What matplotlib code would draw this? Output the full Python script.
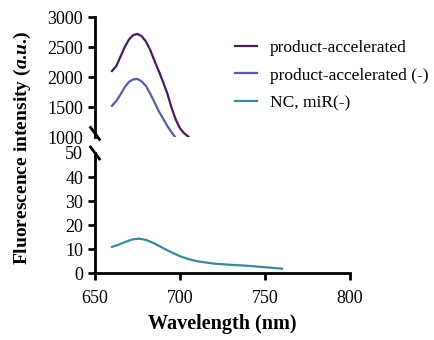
import matplotlib
matplotlib.use("Agg")
import matplotlib.pyplot as plt

plt.rcParams["font.family"] = ["Liberation Serif", "DejaVu Serif"]
plt.rcParams["mathtext.fontset"] = "custom"
plt.rcParams["mathtext.bfit"] = "Liberation Serif:italic:bold"

# spectra
wl_pa = [660, 662.5, 665, 667.5, 670, 672.5, 675, 677.5, 680, 682.5, 685, 687.5,
         690, 692.5, 695, 697.5, 700, 702.5, 705]
int_pa = [2100, 2180, 2340, 2500, 2625, 2700, 2717, 2680, 2590, 2450, 2270, 2100,
          1920, 1730, 1490, 1290, 1145, 1060, 1005]

wl_pam = [660, 662.5, 665, 667.5, 670, 672.5, 675, 677.5, 680, 682.5, 685, 687.5,
          690, 692.5, 695, 697]
int_pam = [1520, 1600, 1710, 1830, 1920, 1960, 1968, 1925, 1850, 1720, 1580, 1430,
           1310, 1185, 1080, 1005]

wl_nc = [660, 664, 668, 672, 676, 680, 685, 690, 695, 700, 705, 710, 720, 730, 740, 750, 760]
int_nc = [10.9, 11.8, 13.0, 14.0, 14.3, 13.8, 12.3, 10.4, 8.6, 7.0, 5.8, 4.9, 3.9, 3.4, 3.0, 2.4, 1.8]

names = ["product-accelerated", "product-accelerated (-)", "NC, miR(-)"]
colors = ["#4b1a5f", "#5a5ea3", "#3b8a98"]

fig = plt.figure(figsize=(4.35, 3.4), dpi=100)
left, width = 95 / 435, 255 / 435
ax_top = fig.add_axes([left, 1 - 137 / 340, width, 120 / 340])
ax_bot = fig.add_axes([left, 1 - 273 / 340, width, 120 / 340])

lw = 1.6
h1, = ax_top.plot(wl_pa, int_pa, color=colors[0], lw=lw)
h2, = ax_top.plot(wl_pam, int_pam, color=colors[1], lw=lw)
h3, = ax_bot.plot(wl_nc, int_nc, color=colors[2], lw=lw)

for ax in (ax_top, ax_bot):
    ax.set_xlim(650, 800)
    ax.spines["top"].set_visible(False)
    ax.spines["right"].set_visible(False)
    ax.spines["left"].set_linewidth(2)
    ax.spines["bottom"].set_linewidth(2)
    ax.tick_params(direction="out", length=5, width=2, labelsize=13)
    ax.tick_params(axis="y", pad=3.5)
    ax.tick_params(axis="x", pad=7)

ax_top.set_ylim(1000, 3000)
ax_top.set_yticks([1000, 1500, 2000, 2500, 3000])
ax_top.spines["bottom"].set_visible(False)
ax_top.tick_params(axis="x", bottom=False, labelbottom=False)
ax_top.yaxis.get_major_ticks()[0].tick1line.set_visible(False)

ax_bot.set_ylim(0, 50)
ax_bot.set_yticks([0, 10, 20, 30, 40, 50])
ax_bot.yaxis.get_major_ticks()[-1].tick1line.set_visible(False)
ax_bot.set_xticks([650, 700, 750, 800])
ax_bot.set_xlabel("Wavelength (nm)", fontsize=14.5, fontweight="bold", labelpad=5)

# break marks on the y axis
d = 0.035
ax_top.plot([-d * 0.5, d * 0.5], [0.08, -0.02], transform=ax_top.transAxes,
            color="k", lw=2, clip_on=False)
ax_bot.plot([-d * 0.5, d * 0.5], [1.05, 0.95], transform=ax_bot.transAxes,
            color="k", lw=2, clip_on=False)

fig.text(22 / 435, 1 - 148 / 340, r"Fluorescence intensity ($\mathbfit{a}$.$\mathbfit{u}$.)",
         rotation=90, ha="center", va="center", fontsize=14, fontweight="bold")

fig.legend([h1, h2, h3], names, loc="upper left", bbox_to_anchor=(219 / 435, 1 - 24 / 340),
           frameon=False, fontsize=12.5, handlelength=1.27, handletextpad=0.75,
           labelspacing=0.67)

fig.savefig("out.png", dpi=100)
